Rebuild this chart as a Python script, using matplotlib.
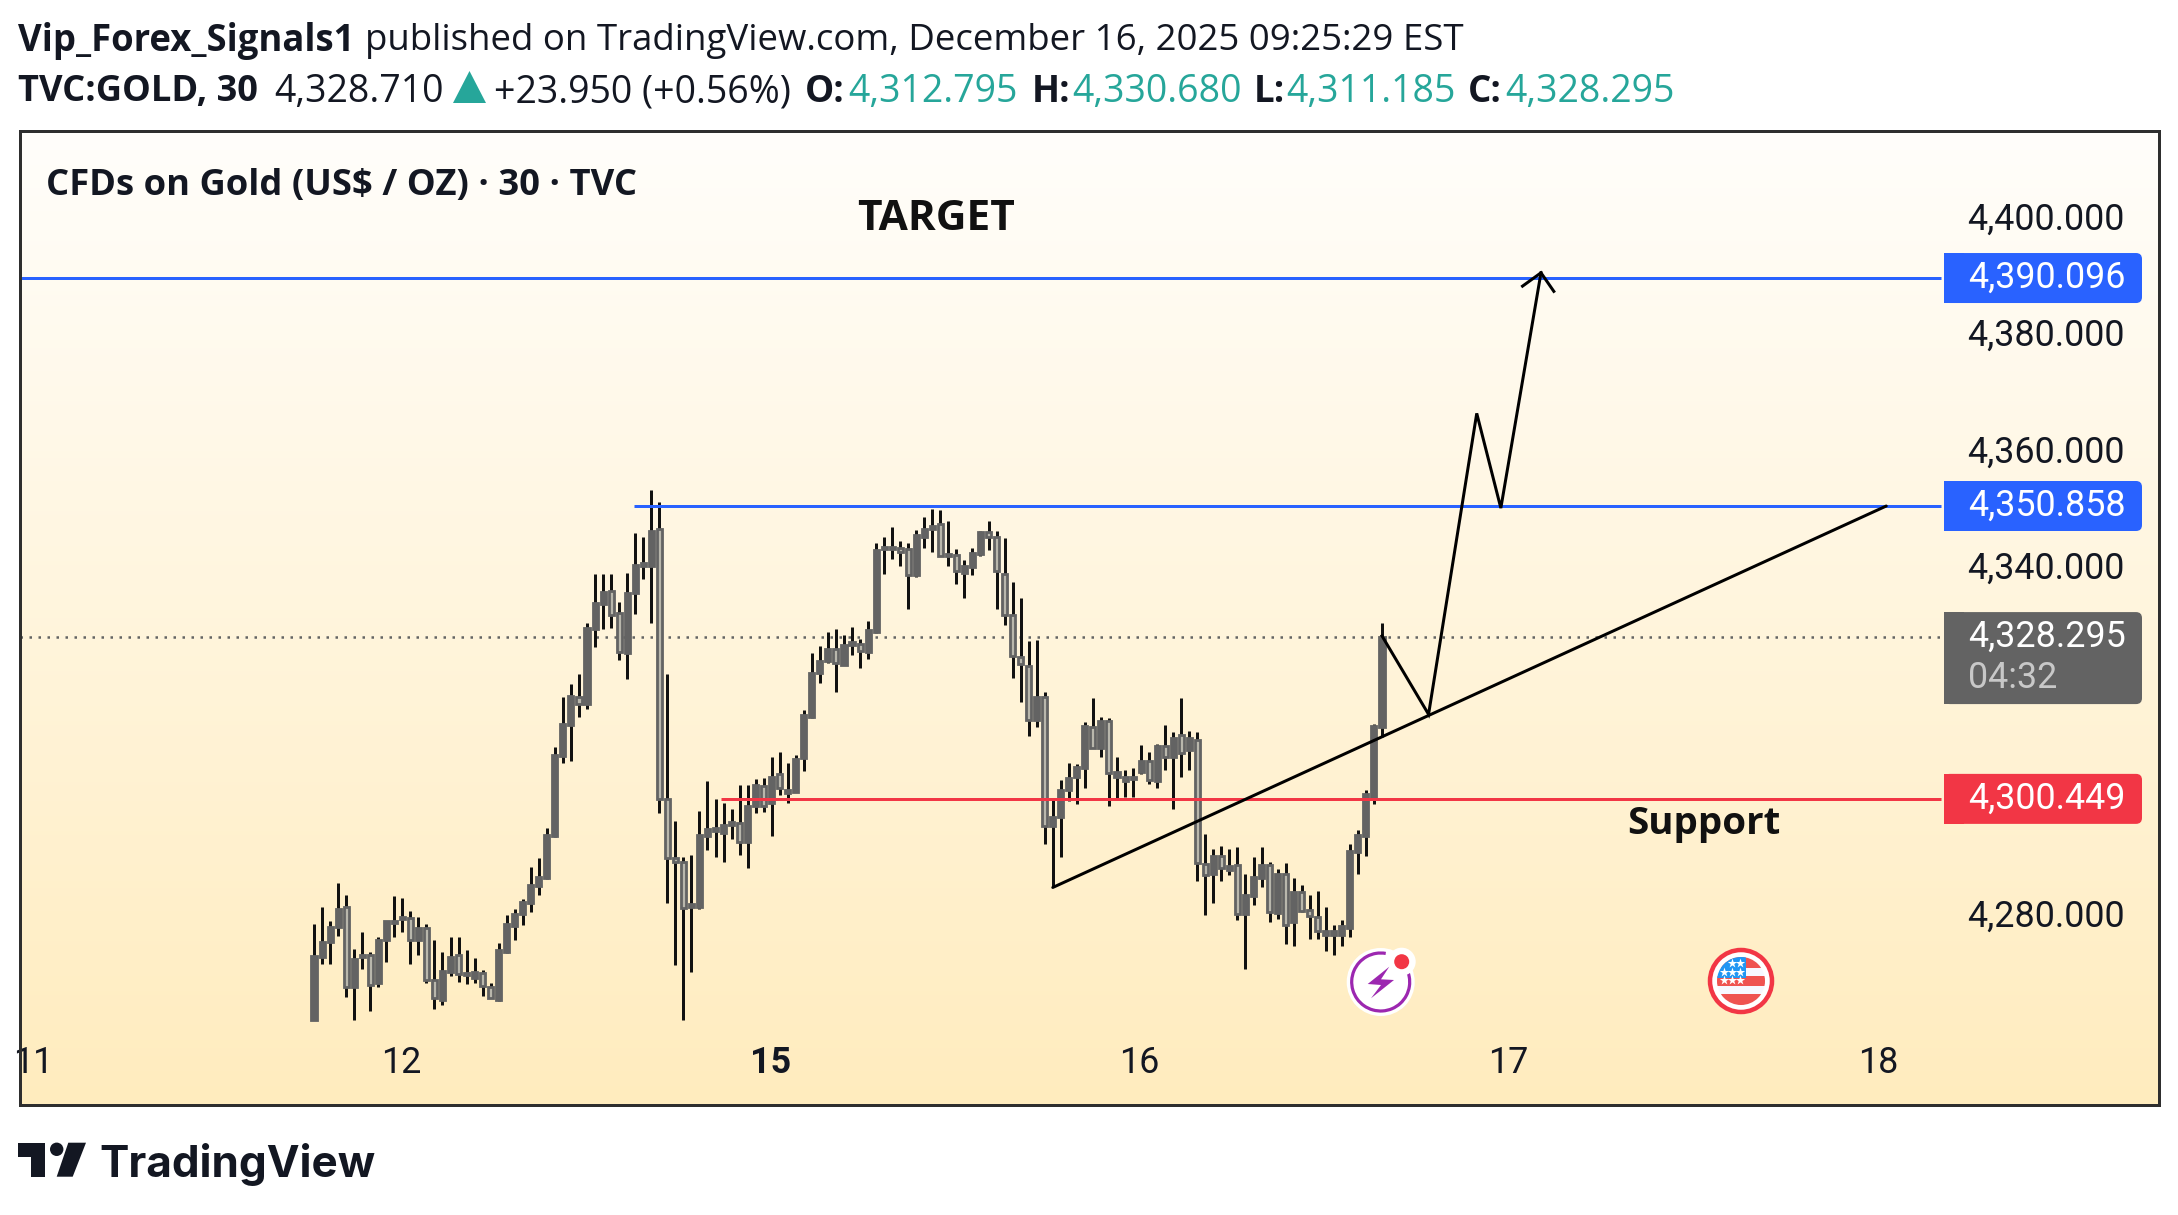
import numpy as np
import matplotlib
matplotlib.use("Agg")
import matplotlib.pyplot as plt
from matplotlib.colors import LinearSegmentedColormap
from matplotlib.patches import Circle, FancyBboxPatch, Polygon, Rectangle, Arc
from matplotlib.transforms import ScaledTranslation

# OHLC, one row per ten bars
opens = [
    4262.4, 4273.2, 4275.8, 4278.4, 4281.8, 4268.1, 4273.6, 4273.5, 4268.7, 4276.1,
    4279.0, 4279.8, 4279.9, 4276.1, 4278.3, 4269.2, 4265.8, 4270.7, 4273.5, 4270.1,
    4269.6, 4270.4, 4268.0, 4265.9, 4274.1, 4278.6, 4280.7, 4282.6, 4285.5, 4286.8,
    4294.1, 4307.9, 4313.1, 4317.9, 4316.7, 4329.7, 4334.0, 4336.2, 4332.4, 4325.5,
    4335.8, 4340.6, 4340.5, 4346.9, 4300.5, 4290.3, 4289.6, 4281.8, 4281.8, 4294.1,
    4295.0, 4294.6, 4295.9, 4296.3, 4293.0, 4299.2, 4302.6, 4299.7, 4304.8, 4301.5,
    4301.6, 4307.4, 4314.5, 4322.2, 4324.1, 4326.2, 4323.5, 4326.9, 4327.1, 4325.7,
    4329.2, 4343.4, 4343.4, 4343.6, 4343.4, 4338.9, 4345.6, 4346.9, 4347.7, 4342.6,
    4342.4, 4339.4, 4340.4, 4342.6, 4346.4, 4345.6, 4339.1, 4332.1, 4324.8, 4323.4,
    4314.1, 4318.0, 4295.8, 4297.4, 4301.9, 4304.3, 4305.7, 4312.9, 4309.2, 4313.9,
    4304.2, 4303.6, 4303.8, 4305.0, 4306.9, 4303.6, 4309.5, 4307.7, 4311.5, 4308.9,
    4310.5, 4289.2, 4287.5, 4290.7, 4288.2, 4289.0, 4280.6, 4283.8, 4286.8, 4289.0,
    4280.8, 4287.5, 4279.2, 4284.5, 4281.3, 4280.2, 4277.0, 4277.0, 4277.0, 4278.3,
    4291.3, 4294.1, 4300.4, 4312.795,
]
closes = [
    4273.4, 4275.9, 4278.4, 4281.5, 4268.1, 4272.9, 4273.2, 4268.4, 4276.2, 4279.4,
    4279.4, 4280.2, 4276.2, 4278.2, 4269.2, 4266.1, 4270.8, 4273.2, 4270.3, 4270.5,
    4270.7, 4268.2, 4266.2, 4274.4, 4278.9, 4280.7, 4282.7, 4285.7, 4287.0, 4294.2,
    4308.0, 4313.3, 4318.1, 4316.8, 4329.8, 4334.2, 4336.0, 4332.1, 4325.7, 4335.9,
    4340.7, 4341.0, 4346.5, 4300.5, 4290.2, 4289.6, 4281.7, 4282.3, 4294.2, 4295.2,
    4295.5, 4295.9, 4296.5, 4293.0, 4299.2, 4302.8, 4299.2, 4304.3, 4302.3, 4301.9,
    4307.3, 4314.8, 4322.2, 4324.1, 4326.2, 4323.8, 4326.9, 4327.4, 4325.9, 4329.5,
    4343.3, 4343.8, 4343.8, 4342.9, 4338.9, 4345.8, 4346.9, 4347.5, 4342.3, 4342.3,
    4339.6, 4340.5, 4342.8, 4346.3, 4345.6, 4339.6, 4332.1, 4325.0, 4323.7, 4314.1,
    4318.0, 4295.8, 4297.4, 4302.0, 4304.0, 4305.9, 4313.0, 4309.2, 4313.9, 4304.9,
    4305.0, 4304.3, 4304.2, 4307.0, 4303.7, 4309.5, 4307.7, 4311.0, 4308.4, 4310.9,
    4289.4, 4287.4, 4290.7, 4288.5, 4288.9, 4280.6, 4283.9, 4287.0, 4289.0, 4280.9,
    4287.5, 4278.8, 4284.4, 4281.1, 4280.3, 4277.7, 4277.7, 4277.7, 4278.5, 4291.4,
    4294.2, 4301.3, 4313.0, 4328.295,
]
highs = [
    4278.9, 4281.8, 4279.4, 4286.0, 4283.9, 4274.6, 4277.5, 4274.1, 4276.6, 4279.4,
    4283.7, 4283.4, 4281.2, 4280.1, 4278.9, 4276.2, 4274.1, 4276.7, 4276.7, 4274.5,
    4273.1, 4271.0, 4268.8, 4275.6, 4280.5, 4281.5, 4283.2, 4288.7, 4290.3, 4295.4,
    4309.3, 4317.9, 4320.2, 4321.9, 4330.8, 4339.1, 4339.1, 4339.1, 4334.3, 4339.4,
    4346.2, 4345.6, 4353.6, 4351.5, 4321.9, 4296.6, 4290.4, 4290.8, 4298.4, 4303.5,
    4300.4, 4299.7, 4298.7, 4302.8, 4302.8, 4303.8, 4304.1, 4307.6, 4308.5, 4306.7,
    4308.0, 4315.8, 4325.6, 4326.8, 4329.1, 4329.7, 4328.7, 4330.0, 4328.0, 4331.0,
    4344.5, 4345.6, 4347.2, 4344.8, 4344.5, 4346.7, 4348.9, 4350.3, 4350.2, 4348.3,
    4343.4, 4341.6, 4343.7, 4346.5, 4348.3, 4346.5, 4345.4, 4337.7, 4335.1, 4327.7,
    4327.8, 4318.8, 4300.3, 4303.7, 4306.6, 4306.5, 4313.6, 4317.8, 4314.5, 4314.3,
    4307.6, 4305.5, 4305.8, 4309.7, 4308.5, 4309.9, 4313.1, 4311.9, 4317.8, 4312.1,
    4312.0, 4294.4, 4291.8, 4292.3, 4291.8, 4292.1, 4287.6, 4290.5, 4292.1, 4289.6,
    4288.3, 4289.4, 4286.8, 4285.7, 4283.9, 4284.6, 4281.8, 4278.7, 4279.6, 4292.7,
    4295.1, 4302.0, 4313.3, 4330.68,
]
lows = [
    4262.4, 4272.1, 4272.0, 4276.9, 4266.4, 4262.4, 4271.2, 4264.0, 4268.0, 4272.4,
    4276.7, 4277.5, 4272.0, 4273.5, 4268.7, 4264.3, 4264.9, 4270.0, 4269.0, 4268.5,
    4268.8, 4266.6, 4266.1, 4265.7, 4274.0, 4276.2, 4278.8, 4281.0, 4283.9, 4286.7,
    4293.9, 4306.7, 4307.0, 4314.5, 4316.0, 4326.6, 4329.7, 4329.9, 4324.4, 4321.1,
    4332.2, 4338.3, 4330.8, 4298.1, 4282.6, 4271.8, 4262.4, 4270.7, 4281.5, 4291.6,
    4290.4, 4289.6, 4293.5, 4290.8, 4288.5, 4298.1, 4298.2, 4294.0, 4301.1, 4299.8,
    4301.6, 4305.3, 4314.4, 4320.4, 4323.9, 4318.8, 4323.5, 4325.2, 4322.9, 4324.6,
    4329.0, 4339.2, 4341.8, 4340.6, 4333.2, 4338.6, 4343.6, 4342.9, 4342.2, 4340.6,
    4337.5, 4335.1, 4338.9, 4342.3, 4343.3, 4333.2, 4330.4, 4321.2, 4317.1, 4311.3,
    4312.9, 4292.7, 4285.2, 4290.4, 4300.0, 4299.6, 4302.4, 4309.2, 4307.7, 4299.3,
    4300.5, 4300.7, 4300.8, 4304.7, 4303.0, 4302.4, 4305.4, 4298.7, 4304.3, 4305.4,
    4286.4, 4280.4, 4282.6, 4286.4, 4287.4, 4279.6, 4271.1, 4282.2, 4285.3, 4279.2,
    4279.8, 4275.5, 4275.2, 4281.0, 4276.3, 4276.3, 4274.3, 4273.5, 4275.2, 4276.6,
    4287.5, 4290.7, 4299.6, 4311.185,
]

# drawn levels and the hand drawn lines (bar number, price)
target_level = 4390.096
resistance_level = 4350.858
support_level = 4300.449
last_price = 4328.295
trend_x = [92, 195.8]
trend_y = [4285.2, 4350.858]
path_x = [133, 138.8, 144.8, 147.8, 152.8]
path_y = [4328.5, 4315.0, 4366.8, 4350.5, 4391.0]
head_x = [150.5, 152.8, 154.4]
head_y = [4388.7, 4391.0, 4387.8]

price_ticks = [4400, 4380, 4360, 4340, 4280]
day_ticks = [-35, 10.9, 56.9, 102.8, 148.75, 194.75]
day_labels = ["11", "12", "15", "16", "17", "18"]

W, H = 2178, 1215
PT = 0.72  # one pixel in points at dpi 100
BLUE, RED, GREY, TEAL, INK = "#2962ff", "#f23645", "#636363", "#26a69a", "#131722"
SANS = "Open Sans"

opens = np.array(opens)
closes = np.array(closes)
highs = np.array(highs)
lows = np.array(lows)
bars = np.arange(len(opens))

fig = plt.figure(figsize=(W / 100, H / 100), dpi=100, facecolor="white")
left, right, top, bottom = 19.5, 2158.5, 131, 1105
ax = fig.add_axes([left / W, 1 - bottom / H, (right - left) / W, (bottom - top) / H])
xlim = ((left - 314) / 8.03, (right - 314) / 8.03)
ylim = (4350.858 - (bottom - 506) / 5.81, 4350.858 - (top - 506) / 5.81)

# background gradient
cmap = LinearSegmentedColormap.from_list("bg", ["#fffefb", "#ffecbe"])
ax.imshow(np.linspace(0, 1, 256).reshape(-1, 1), cmap=cmap, aspect="auto",
          extent=[xlim[0], xlim[1], ylim[0], ylim[1]], origin="upper", zorder=0)
ax.set_xlim(xlim)
ax.set_ylim(ylim)

# candles
wicks = ax.vlines(bars, lows, highs, color="#111111", lw=3 * PT, capstyle="butt", zorder=2)
wicks.set_snap(True)
body_low = np.minimum(opens, closes)
body_h = np.abs(closes - opens)
colors = np.where(closes < opens, "#b9b7ac", GREY)
ax.bar(bars, body_h, bottom=body_low, width=0.63, color=colors, edgecolor=GREY,
       linewidth=2.8 * PT, zorder=3)

# levels
line_end = 202.6
ax.hlines(target_level, xlim[0], line_end, color=BLUE, lw=3 * PT, zorder=4)
ax.hlines(resistance_level, 39.8, line_end, color=BLUE, lw=3 * PT, zorder=4)
ax.hlines(support_level, 50.7, line_end, color=RED, lw=3 * PT, zorder=4)
ax.plot([xlim[0], line_end], [last_price, last_price], color=GREY, lw=1.8,
        linestyle=(0, (1.0, 2.6)), dash_capstyle="butt", zorder=1.5)

# drawings
ax.plot(trend_x, trend_y, color="black", lw=3 * PT, solid_capstyle="round", zorder=5)
ax.plot(path_x, path_y, color="black", lw=3 * PT, solid_joinstyle="miter", zorder=5)
ax.plot(head_x, head_y, color="black", lw=3 * PT, solid_joinstyle="miter", zorder=5)

# axes look
for spine in ax.spines.values():
    spine.set_linewidth(3 * PT)
    spine.set_color("#2e2e2e")
    spine.set_zorder(20)
ax.yaxis.tick_right()
ax.set_yticks(price_ticks)
ax.set_yticklabels([f"{p:,.3f}" for p in price_ticks], fontfamily="Roboto", fontsize=25.8,
                   color="#131722", va="center")
ax.tick_params(axis="y", length=0, pad=-(right - 1967) * PT)
up_shift = ScaledTranslation(0, 0.5 / 100, fig.dpi_scale_trans)
for lab in ax.get_yticklabels():
    lab.set_ha("left")
    lab.set_transform(lab.get_transform() + up_shift)
ax.set_xticks(day_ticks)
ax.set_xticklabels(day_labels, fontfamily="Roboto", fontsize=25.8, color="#131722", va="center")
ax.tick_params(axis="x", length=0, pad=-(bottom - 1063) * PT)
ax.get_xticklabels()[2].set_fontweight("bold")

# overlay in pixel coordinates for labels and icons
ov = fig.add_axes([0, 0, 1, 1], zorder=10)
ov.set_xlim(0, W)
ov.set_ylim(H, 0)
ov.axis("off")


def price_px(price):
    return H - ax.transData.transform((0, price))[1]


def price_label(price, color, text, below=None):
    y = price_px(price)
    h = 50 if below is None else 92
    ov.add_patch(Rectangle((1944, y - 25), 20, h, color=color, lw=0))
    ov.add_patch(FancyBboxPatch((1950, y - 19), 186, h - 12, boxstyle="round,pad=6,rounding_size=6",
                                fc=color, ec="none"))
    ov.text(1968, y, text, family="Roboto", fontsize=25.8, color="white", va="center")
    if below:
        ov.text(1968, y + 41, below, family="Roboto", fontsize=25.8, color="#c8c8c8", va="center")


price_label(target_level, BLUE, f"{target_level:,.3f}")
price_label(resistance_level, BLUE, f"{resistance_level:,.3f}")
price_label(support_level, RED, f"{support_level:,.3f}")
price_label(last_price, GREY, f"{last_price:,.3f}", below="04:32")

# header text
y1, y2 = 41, 92
ov.text(18, y1, "Vip_Forex_Signals1", family=SANS, weight="bold", fontsize=26.3, color=INK, va="center")
ov.text(365, y1, "published on TradingView.com, December 16, 2025 09:25:29 EST", family=SANS,
        fontsize=26.4, color=INK, va="center")
header = [
    (18, "TVC:GOLD, 30", INK, "bold", 26.1),
    (274, "4,328.710", INK, "normal", 27),
    (494, "+23.950 (+0.56%)", INK, "normal", 27),
    (805, "O:", INK, "bold", 26.5),
    (848, "4,312.795", TEAL, "normal", 27),
    (1032, "H:", INK, "bold", 26.5),
    (1072, "4,330.680", TEAL, "normal", 27),
    (1254, "L:", INK, "bold", 26.5),
    (1286, "4,311.185", TEAL, "normal", 27),
    (1468, "C:", INK, "bold", 26.5),
    (1505, "4,328.295", TEAL, "normal", 27),
]
for x, s, c, w, size in header:
    ov.text(x, y2, s, family=SANS, weight=w, fontsize=size, color=c, va="center")
ov.add_patch(Polygon([(453, 103), (486, 103), (469.5, 71)], color=TEAL, lw=0))

ov.text(46, 186, "CFDs on Gold (US$ / OZ) · 30 · TVC", family=SANS, weight="bold", fontsize=26.2,
        color=INK, va="center")
ov.text(936, 219, "TARGET", family=SANS, weight="bold", fontsize=30.5, color="#111111", va="center", ha="center")
ov.text(1703.5, 824, "Support", family=SANS, weight="bold", fontsize=27.7, color="#111111", va="center", ha="center")

# lightning icon
ov.add_patch(Circle((1380.7, 982), 34, fc="white", ec="none"))
ov.add_patch(Arc((1380.7, 982), 58, 58, theta1=-30, theta2=280, ec="#9c27b0", lw=3.2 * PT))
ov.add_patch(Circle((1401.7, 961.7), 14, fc="white", ec="none"))
ov.add_patch(Circle((1401.7, 961.7), 7.5, fc=RED, ec="none"))
ov.add_patch(Polygon([(1389.3, 966.7), (1367.7, 984), (1381, 985), (1371, 998.3), (1394, 980), (1381, 979.3)],
                     fc="#9c27b0", ec="none"))

# flag icon
fx, fy = 1741, 981
ov.add_patch(Circle((fx, fy), 31, fc="white", ec=RED, lw=4.5 * PT))
disc = Circle((fx, fy), 24, transform=ov.transData, fc="none", ec="none")
ov.add_patch(disc)
flag = [Rectangle((fx - 26, fy - 26), 52, 52, fc="#f7f8ff", ec="none")]
for y0, y3 in [(957, 968.3), (976, 986), (994.3, 1006)]:
    flag.append(Rectangle((fx - 26, y0), 52, y3 - y0, fc="#ef5350", ec="none"))
flag.append(Rectangle((fx - 26, fy - 26), 31, 22.5, fc="#2196f3", ec="none"))
for p in flag:
    ov.add_patch(p)
    p.set_clip_path(disc)
star_x = [1731.7, 1740, 1724, 1732, 1740, 1724, 1732, 1740]
star_y = [963.3, 963.3, 971.7, 971.7, 971.7, 980, 980, 980]
ov.scatter(star_x, star_y, marker="*", s=50, c="white", linewidths=0, zorder=5)

# TradingView logo
ov.add_patch(Polygon([(18, 1142.7), (45, 1142.7), (45, 1176.7), (31, 1176.7), (31, 1156.7), (18, 1156.7)],
                     fc=INK, ec="none"))
ov.add_patch(Circle((56.7, 1149.3), 6.7, fc=INK, ec="none"))
ov.add_patch(Polygon([(68.3, 1142.7), (86, 1142.7), (72.7, 1176.7), (56.7, 1176.7)], fc=INK, ec="none"))
ov.text(99, 1177, "TradingView", family="Inter", weight="bold", fontsize=31.7, color=INK, va="baseline")

fig.savefig("out.png", dpi=100)
